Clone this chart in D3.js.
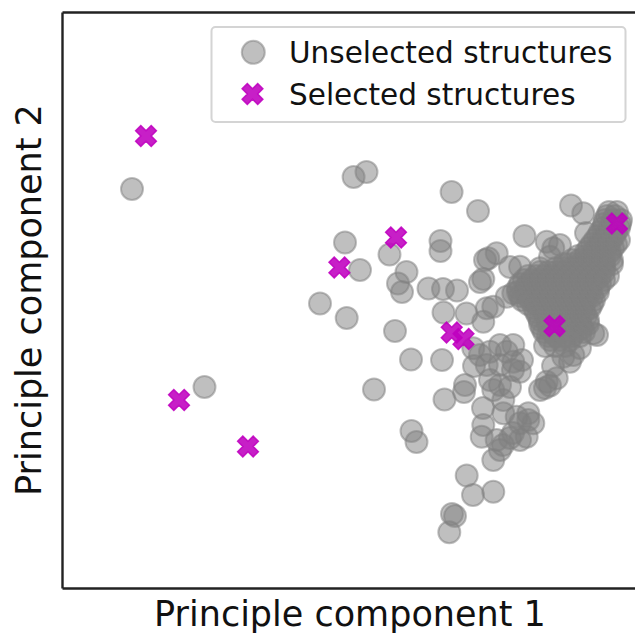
<!DOCTYPE html>
<html>
<head>
<meta charset="utf-8">
<script src="https://cdn.jsdelivr.net/npm/d3@7"></script>
<style>
  html, body { margin: 0; padding: 0; background: #fff; }
  svg { display: block; font-family: "DejaVu Sans", sans-serif; }
</style>
</head>
<body>
<svg id="chart" width="635" height="634"></svg>
<script>
// ---------------- DATA (principal component scores, arbitrary units) ----------------
const xLabel = "Principle component 1";
const yLabel = "Principle component 2";
const seriesNames = ["Unselected structures", "Selected structures"];

// scattered unselected structures [PC1, PC2]
const unselectedSparse = [
  [7.0, 39.9], [14.25, 20.1], [29.16, 41.1], [30.45, 41.6], [28.3, 34.55], [29.8, 31.8],
  [32.75, 33.35], [34.45, 31.6], [33.6, 30.45], [34.0, 29.6], [25.8, 28.45], [28.47, 27.0],
  [33.3, 25.7], [38.96, 39.6], [41.6, 37.7], [37.85, 34.7], [37.85, 33.7], [36.65, 29.95],
  [38.1, 29.9], [39.5, 29.75], [38.15, 27.55], [40.45, 27.45], [34.9, 22.85], [38.0, 22.8],
  [31.2, 19.85], [38.25, 18.85], [40.3, 20.3], [40.2, 19.6], [34.95, 15.7], [35.45, 14.6],
  [40.47, 11.25], [41.1, 9.3], [43.13, 9.63], [39.0, 7.4], [39.3, 7.2], [38.73, 5.57],
  [46.25, 35.2], [50.9, 38.25], [52.13, 37.47], [48.47, 34.63], [49.13, 33.97], [49.8, 34.3],
  [42.63, 32.97], [43.47, 33.47], [42.13, 30.9], [41.8, 30.6], [45.8, 32.13], [47.8, 31.97],
  [42.47, 27.97], [43.13, 28.13], [44.47, 29.13], [45.13, 29.47], [42.13, 26.63], [41.13, 23.97],
  [41.8, 23.3], [42.8, 23.63], [43.8, 24.3], [44.47, 23.63], [45.13, 24.3], [42.47, 22.3],
  [43.8, 22.3], [45.13, 22.63], [45.8, 21.63], [45.1, 21.8], [50.13, 23.13], [50.8, 22.63],
  [51.13, 23.3], [48.47, 20.63], [48.8, 20.25], [49.47, 20.97], [47.8, 19.8], [48.3, 20.0],
  [53.13, 25.47], [43.13, 19.8], [44.13, 18.8], [46.63, 17.47], [42.1, 18.0], [43.8, 20.3],
  [44.8, 20.1], [44.13, 17.47], [42.13, 16.3], [41.97, 15.13], [43.47, 14.8], [43.13, 12.8],
  [44.8, 15.0], [45.8, 14.8], [46.47, 15.13], [46.63, 16.8], [47.13, 16.47], [45.8, 16.47],
  [45.47, 17.13], [44.1, 14.3], [43.8, 13.8], [45.1, 15.5], [53.5, 25.3], [52.4, 35.5],
  [51.8, 24.0], [49.1, 22.2], [46.0, 22.8], [41.2, 22.2], [42.8, 20.8], [48.8, 33.13],
  [42.3, 32.8], [44.8, 32.1]
];

// densely packed unselected structures (upper-right cluster) [PC1, PC2]
const unselectedDense = [
  [54.7, 37.6], [55.5, 37.6],
  [54.5, 37.2], [55.3, 37.2],
  [54.3, 36.8], [55.1, 36.8], [55.9, 36.8],
  [54.2, 36.4], [55.0, 36.4], [55.8, 36.4],
  [54.1, 36.0], [54.9, 36.0], [55.7, 36.0],
  [53.8, 35.6], [54.6, 35.6], [55.4, 35.6],
  [53.6, 35.2], [54.4, 35.2], [55.2, 35.2],
  [53.3, 34.8], [54.1, 34.8], [54.9, 34.8], [55.7, 34.8],
  [53.0, 34.4], [53.8, 34.4], [54.6, 34.4], [55.4, 34.4],
  [52.7, 34.0], [53.5, 34.0], [54.3, 34.0], [55.1, 34.0],
  [52.4, 33.6], [53.2, 33.6], [54.0, 33.6], [54.8, 33.6],
  [51.6, 33.2], [52.4, 33.2], [53.2, 33.2], [54.0, 33.2], [54.8, 33.2],
  [51.0, 32.8], [51.8, 32.8], [52.6, 32.8], [53.4, 32.8], [54.2, 32.8], [55.0, 32.8],
  [50.2, 32.4], [51.0, 32.4], [51.8, 32.4], [52.6, 32.4], [53.4, 32.4], [54.2, 32.4], [55.0, 32.4],
  [49.4, 32.0], [50.2, 32.0], [51.0, 32.0], [51.8, 32.0], [52.6, 32.0], [53.4, 32.0], [54.2, 32.0],
  [47.8, 31.6], [48.6, 31.6], [49.4, 31.6], [50.2, 31.6], [51.0, 31.6], [51.8, 31.6],
  [52.6, 31.6], [53.4, 31.6], [54.2, 31.6],
  [46.6, 31.2], [47.4, 31.2], [48.2, 31.2], [49.0, 31.2], [49.8, 31.2], [50.6, 31.2],
  [51.4, 31.2], [52.2, 31.2], [53.0, 31.2], [53.8, 31.2], [54.6, 31.2],
  [46.2, 30.8], [47.0, 30.8], [47.8, 30.8], [48.6, 30.8], [49.4, 30.8], [50.2, 30.8],
  [51.0, 30.8], [51.8, 30.8], [52.6, 30.8], [53.4, 30.8], [54.2, 30.8],
  [45.8, 30.4], [46.6, 30.4], [47.4, 30.4], [48.2, 30.4], [49.0, 30.4], [49.8, 30.4],
  [50.6, 30.4], [51.4, 30.4], [52.2, 30.4], [53.0, 30.4], [53.8, 30.4],
  [45.6, 30.0], [46.4, 30.0], [47.2, 30.0], [48.0, 30.0], [48.8, 30.0], [49.6, 30.0],
  [50.4, 30.0], [51.2, 30.0], [52.0, 30.0], [52.8, 30.0], [53.6, 30.0],
  [45.6, 29.6], [46.4, 29.6], [47.2, 29.6], [48.0, 29.6], [48.8, 29.6], [49.6, 29.6],
  [50.4, 29.6], [51.2, 29.6], [52.0, 29.6], [52.8, 29.6], [53.6, 29.6],
  [45.8, 29.2], [46.6, 29.2], [47.4, 29.2], [48.2, 29.2], [49.0, 29.2], [49.8, 29.2],
  [50.6, 29.2], [51.4, 29.2], [52.2, 29.2], [53.0, 29.2],
  [46.0, 28.8], [46.8, 28.8], [47.6, 28.8], [48.4, 28.8], [49.2, 28.8], [50.0, 28.8],
  [50.8, 28.8], [51.6, 28.8], [52.4, 28.8], [53.2, 28.8],
  [46.6, 28.4], [47.4, 28.4], [48.2, 28.4], [49.0, 28.4], [49.8, 28.4], [50.6, 28.4],
  [51.4, 28.4], [52.2, 28.4], [53.0, 28.4],
  [47.2, 28.0], [48.0, 28.0], [48.8, 28.0], [49.6, 28.0], [50.4, 28.0], [51.2, 28.0],
  [52.0, 28.0], [52.8, 28.0],
  [47.4, 27.6], [48.2, 27.6], [49.0, 27.6], [49.8, 27.6], [50.6, 27.6], [51.4, 27.6], [52.2, 27.6],
  [47.6, 27.2], [48.4, 27.2], [49.2, 27.2], [50.0, 27.2], [50.8, 27.2], [51.6, 27.2], [52.4, 27.2],
  [47.8, 26.8], [48.6, 26.8], [49.4, 26.8], [50.2, 26.8], [51.0, 26.8], [51.8, 26.8], [52.6, 26.8],
  [47.8, 26.4], [48.6, 26.4], [49.4, 26.4], [50.2, 26.4], [51.0, 26.4], [51.8, 26.4], [52.6, 26.4],
  [48.0, 26.0], [48.8, 26.0], [49.6, 26.0], [50.4, 26.0], [51.2, 26.0], [52.0, 26.0],
  [48.2, 25.6], [49.0, 25.6], [49.8, 25.6], [50.6, 25.6], [51.4, 25.6], [52.2, 25.6],
  [48.6, 25.2], [49.4, 25.2], [50.2, 25.2], [51.0, 25.2], [51.8, 25.2],
  [48.8, 24.8], [49.8, 24.8], [50.8, 24.8],
  [48.3, 24.2], [49.3, 24.2], [50.3, 24.2]
];

// selected structures [PC1, PC2]
const selected = [
  [8.4, 45.2], [11.7, 18.8], [18.6, 14.15], [27.74, 32.05], [33.4, 35.05],
  [38.97, 25.55], [40.15, 24.9], [49.25, 26.2], [55.5, 36.45]
];

const xDomain = [0, 57.6];
const yDomain = [0, 57.6];

// ---------------- DRAWING ----------------
const svg = d3.select("#chart");
const plot = { left: 62, top: 12, right: 638, bottom: 588 };

const x = d3.scaleLinear().domain(xDomain).range([plot.left, plot.right]);
const y = d3.scaleLinear().domain(yDomain).range([plot.bottom, plot.top]);

const grayCol = "#808080";
const magCol = "#bf00bf";
const circleR = 11;
const xSize = 22;

// matplotlib-like filled 'X' marker
function xMarkerPath(size) {
  const base = [[-1,-3],[1,-3],[1,-1],[3,-1],[3,1],[1,1],[1,3],[-1,3],[-1,1],[-3,1],[-3,-1],[-1,-1]];
  const s = size / 6, c = Math.SQRT1_2;
  const pts = base.map(([a, b]) => [(a - b) * c * s, (a + b) * c * s]);
  return "M" + pts.map(p => p[0].toFixed(2) + "," + p[1].toFixed(2)).join("L") + "Z";
}

const unselected = unselectedSparse.concat(unselectedDense);

svg.append("g").attr("class", "unselected")
  .selectAll("circle").data(unselected).join("circle")
  .attr("cx", d => x(d[0])).attr("cy", d => y(d[1])).attr("r", circleR)
  .attr("fill", grayCol).attr("fill-opacity", 0.5)
  .attr("stroke", grayCol).attr("stroke-opacity", 0.5).attr("stroke-width", 2);

svg.append("g").attr("class", "selected")
  .selectAll("path").data(selected).join("path")
  .attr("transform", d => `translate(${x(d[0])},${y(d[1])})`)
  .attr("d", xMarkerPath(xSize))
  .attr("fill", magCol).attr("fill-opacity", 0.88)
  .attr("stroke", magCol).attr("stroke-opacity", 0.88).attr("stroke-width", 1.5);

// spines (no ticks)
const spineW = 2.4, spineCol = "#222";
function spine(g) {
  g.selectAll(".domain").attr("stroke", spineCol).attr("stroke-width", spineW);
  g.selectAll(".tick").remove();
}
svg.append("g").attr("transform", `translate(0,${plot.bottom})`)
  .call(d3.axisBottom(x).tickValues([]).tickSizeOuter(0)).call(spine);
svg.append("g").attr("transform", `translate(0,${plot.top})`)
  .call(d3.axisTop(x).tickValues([]).tickSizeOuter(0)).call(spine);
svg.append("g").attr("transform", `translate(${plot.left},0)`)
  .call(d3.axisLeft(y).tickValues([]).tickSizeOuter(0)).call(spine);

// axis labels
svg.append("text")
  .attr("x", (plot.left + plot.right) / 2).attr("y", 626)
  .attr("text-anchor", "middle").attr("font-size", 35).attr("fill", "#111")
  .text(xLabel);
svg.append("text")
  .attr("transform", `translate(40.5,${(plot.top + plot.bottom) / 2}) rotate(-90)`)
  .attr("text-anchor", "middle").attr("font-size", 35).attr("fill", "#111")
  .text(yLabel);

// legend
const lg = svg.append("g").attr("class", "legend");
lg.append("rect")
  .attr("x", 211.5).attr("y", 27).attr("width", 414).attr("height", 95)
  .attr("rx", 4).attr("ry", 4)
  .attr("fill", "#fff").attr("fill-opacity", 0.8)
  .attr("stroke", "#d4d4d4").attr("stroke-width", 2);
lg.append("circle")
  .attr("cx", 253.3).attr("cy", 52.3).attr("r", circleR + 0.5)
  .attr("fill", grayCol).attr("fill-opacity", 0.5)
  .attr("stroke", grayCol).attr("stroke-opacity", 0.5).attr("stroke-width", 2);
lg.append("path")
  .attr("transform", "translate(252.5,94)")
  .attr("d", xMarkerPath(xSize))
  .attr("fill", magCol).attr("fill-opacity", 0.88)
  .attr("stroke", magCol).attr("stroke-opacity", 0.88).attr("stroke-width", 1.5);
lg.selectAll("text.lab").data(seriesNames).join("text")
  .attr("class", "lab")
  .attr("x", 289).attr("y", (d, i) => [62.7, 105][i])
  .attr("font-size", 29.5).attr("fill", "#111")
  .text(d => d);
</script>
</body>
</html>
